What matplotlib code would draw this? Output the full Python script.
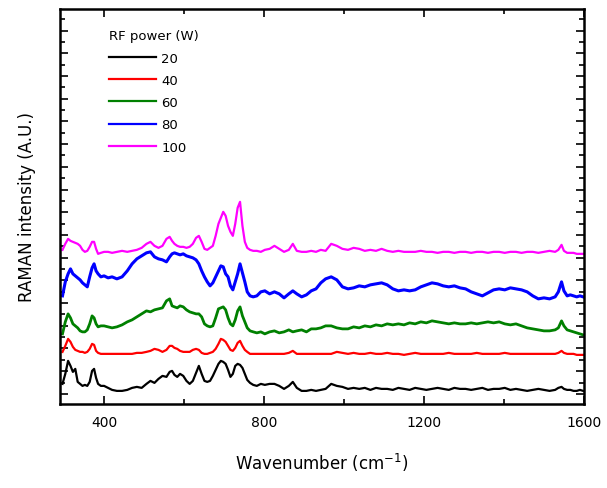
import numpy as np
import matplotlib
matplotlib.use("Agg")
import matplotlib.pyplot as plt
from matplotlib.ticker import FixedLocator

# wavenumber grid (cm-1), shared by all spectra
wn = [296, 303, 310, 316, 322, 328, 334, 340, 346, 352,
      358, 364, 370, 375, 380, 385, 392, 400, 410, 420,
      432, 445, 458, 470, 482, 494, 506, 516, 526, 536,
      546, 556, 564, 570, 576, 583, 590, 598, 606, 614,
      622, 630, 637, 644, 651, 658, 665, 672, 679, 686,
      692, 698, 704, 710, 716, 722, 728, 734, 740, 746,
      752, 758, 765, 773, 782, 792, 802, 814, 826, 838,
      850, 862, 872, 882, 894, 906, 918, 930, 942, 954,
      968, 982, 996, 1010, 1024, 1038, 1052, 1066, 1080, 1094,
      1108, 1122, 1136, 1150, 1164, 1178, 1192, 1206, 1220, 1234,
      1248, 1262, 1276, 1290, 1304, 1318, 1332, 1346, 1360, 1374,
      1388, 1402, 1416, 1430, 1444, 1458, 1472, 1486, 1500, 1514,
      1528, 1536, 1544, 1550, 1558, 1566, 1574, 1582, 1590, 1598]

# offset Raman intensities (A.U.)
w20 = [20, 30, 43, 38, 32, 35, 22, 20, 18, 19,
       18, 22, 33, 35, 26, 20, 18, 18, 16, 14,
       13, 13, 14, 16, 17, 16, 20, 23, 21, 25,
       28, 27, 32, 33, 29, 27, 30, 28, 23, 20,
       23, 31, 38, 30, 23, 22, 23, 28, 34, 40,
       43, 42, 40, 34, 27, 30, 38, 40, 39, 36,
       30, 24, 21, 19, 18, 20, 19, 20, 20, 18,
       15, 18, 22, 16, 13, 13, 14, 13, 14, 15,
       20, 18, 17, 15, 16, 15, 16, 14, 16, 15,
       15, 14, 16, 15, 14, 16, 15, 14, 15, 16,
       15, 14, 16, 15, 15, 14, 15, 16, 14, 15,
       15, 16, 14, 15, 14, 13, 14, 15, 14, 13,
       14, 16, 17, 15, 14, 14, 13, 13, 14, 13]

w40 = [52, 58, 65, 62, 57, 54, 53, 52, 52, 51,
       52, 55, 60, 59, 53, 51, 50, 50, 50, 50,
       50, 50, 50, 50, 51, 51, 52, 53, 55, 54,
       52, 54, 58, 58, 56, 55, 53, 52, 52, 52,
       54, 55, 54, 51, 50, 50, 51, 52, 55, 60,
       65, 64, 62, 58, 54, 53, 56, 61, 63, 58,
       54, 52, 50, 50, 50, 50, 50, 50, 50, 50,
       50, 51, 53, 50, 50, 50, 50, 50, 50, 50,
       50, 52, 51, 50, 51, 50, 50, 51, 50, 50,
       51, 50, 50, 49, 50, 51, 50, 50, 50, 50,
       50, 51, 50, 50, 50, 50, 51, 50, 50, 50,
       50, 51, 50, 50, 50, 50, 50, 50, 50, 50,
       50, 51, 53, 51, 50, 50, 50, 49, 49, 49]

w60 = [70, 82, 90, 86, 80, 78, 76, 73, 72, 72,
       74, 80, 88, 86, 80, 77, 78, 78, 77, 76,
       77, 79, 82, 84, 87, 90, 93, 92, 94, 95,
       96, 103, 105, 98, 97, 96, 98, 97, 94, 92,
       91, 90, 90, 87, 80, 78, 77, 78, 86, 95,
       96, 97, 94, 86, 80, 78, 84, 93, 97, 88,
       82, 76, 73, 72, 71, 72, 70, 72, 73, 71,
       72, 74, 72, 73, 74, 72, 75, 75, 76, 78,
       78, 76, 75, 75, 77, 76, 78, 77, 79, 78,
       80, 79, 80, 79, 81, 80, 82, 81, 83, 82,
       81, 80, 81, 80, 80, 81, 80, 81, 82, 81,
       82, 80, 79, 80, 78, 76, 75, 74, 73, 73,
       74, 76, 83, 78, 74, 73, 72, 71, 70, 69]

w80 = [108, 122, 130, 135, 130, 128, 126, 124, 121, 119,
       117, 127, 136, 140, 133, 130, 127, 128, 126, 127,
       125, 127, 133, 140, 145, 148, 151, 152, 147, 145,
       144, 142, 147, 150, 151, 150, 149, 150, 148, 147,
       146, 144, 140, 133, 127, 122, 118, 121, 127, 133,
       138, 137, 130, 127, 118, 114, 122, 130, 140, 131,
       122, 112, 108, 107, 108, 112, 113, 110, 112, 110,
       106, 110, 113, 110, 107, 109, 113, 115, 121, 125,
       127, 124, 117, 115, 116, 118, 117, 119, 120, 121,
       119, 115, 113, 114, 113, 114, 117, 119, 121, 120,
       118, 117, 118, 116, 115, 112, 110, 108, 111, 114,
       115, 114, 116, 115, 114, 112, 108, 105, 106, 105,
       107, 112, 122, 113, 108, 109, 108, 107, 108, 107]

w100 = [154, 160, 165, 163, 162, 161, 160, 158, 154, 152,
        153, 157, 162, 162, 155, 150, 151, 152, 152, 151,
        152, 153, 152, 153, 154, 156, 160, 162, 158, 156,
        158, 165, 167, 163, 160, 158, 157, 157, 156, 157,
        160, 166, 168, 162, 155, 154, 156, 158, 168, 180,
        186, 192, 188, 178, 172, 168, 180, 196, 202, 178,
        162, 156, 154, 153, 153, 152, 154, 155, 158, 155,
        152, 154, 160, 153, 152, 152, 153, 152, 154, 153,
        160, 158, 155, 154, 156, 155, 153, 154, 153, 155,
        153, 152, 153, 152, 152, 152, 153, 152, 152, 151,
        152, 152, 151, 152, 152, 151, 152, 152, 151, 152,
        152, 151, 152, 152, 151, 152, 152, 151, 152, 153,
        152, 154, 159, 153, 151, 151, 151, 150, 150, 150]

powers = ['20', '40', '60', '80', '100']
colors = ['black', 'red', 'green', 'blue', 'magenta']
widths = [1.6, 1.6, 2.0, 2.2, 1.6]
spectra = [w20, w40, w60, w80, w100]

fig = plt.figure(figsize=(6.07, 4.89), dpi=100)
ax = fig.add_axes([0.099, 0.172, 0.863, 0.808])

for p, c, lw, s in zip(powers, colors, widths, spectra):
    ax.plot(wn, s, color=c, lw=lw, label=p)

ax.set_xlim(290, 1600)
ax.set_ylim(0, 395)

ax.set_xticks([400, 800, 1200, 1600])
ax.xaxis.set_minor_locator(FixedLocator([600, 1000, 1400]))
ax.yaxis.set_major_locator(FixedLocator(np.arange(10, 395, 22.7)))
ax.yaxis.set_minor_locator(FixedLocator(np.arange(21.35, 395, 22.7)))
ax.set_yticklabels([])
ax.tick_params(which='both', direction='in', top=True, right=True, width=1.2)
ax.tick_params(which='major', length=6)
ax.tick_params(which='minor', length=3.5)
ax.tick_params(axis='x', labelsize=10, pad=8)
for sp in ax.spines.values():
    sp.set_linewidth(1.8)

ax.set_xlabel('Wavenumber (cm$^{-1}$)', fontsize=12, labelpad=16)
ax.set_ylabel('RAMAN intensity (A.U.)', fontsize=12, labelpad=14)

leg = ax.legend(title='RF power (W)', loc='upper left', bbox_to_anchor=(0.07, 0.978),
                frameon=False, fontsize=9.5, title_fontsize=9.5, handlelength=3.6,
                labelspacing=0.7, handletextpad=0.4, alignment='left')
for ln in leg.get_lines():
    ln.set_linewidth(1.6)

fig.savefig('out.png', dpi=100)
